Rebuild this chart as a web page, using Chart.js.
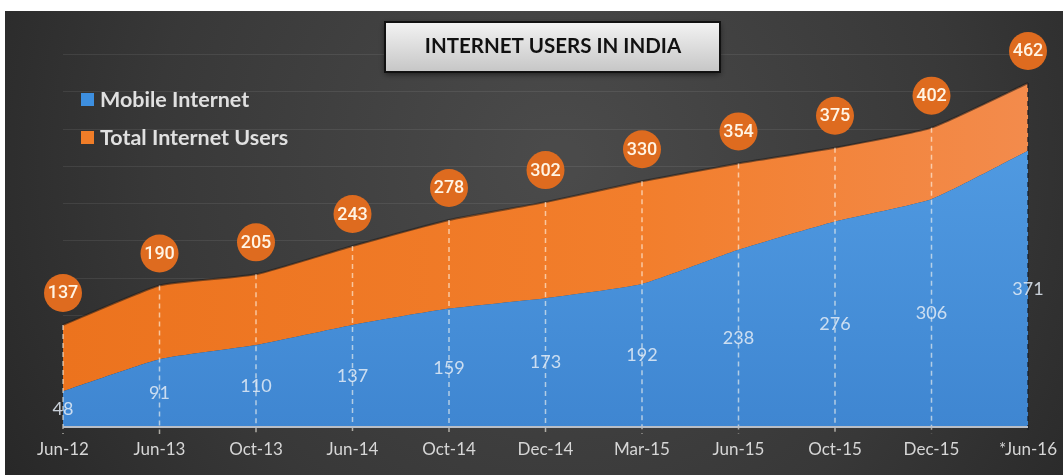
<!DOCTYPE html>
<html>
<head>
<meta charset="utf-8">
<script src="https://cdn.jsdelivr.net/npm/chart.js@4"></script>
<style>
  html, body { margin: 0; padding: 0; background: #fff; }
  #wrap { position: relative; width: 1063px; height: 475px; }
</style>
</head>
<body>
<div id="wrap"><canvas id="usersChart"></canvas></div>
<script>
// Internet users in India (millions)
const periods = ['Jun-12', 'Jun-13', 'Oct-13', 'Jun-14', 'Oct-14', 'Dec-14', 'Mar-15', 'Jun-15', 'Oct-15', 'Dec-15', '*Jun-16'];
const mobileUsers = [48, 91, 110, 137, 159, 173, 192, 238, 276, 306, 371];
const totalUsers = [137, 190, 205, 243, 278, 302, 330, 354, 375, 402, 462];
const legendItems = ['Mobile Internet', 'Total Internet Users'];
const chartTitle = 'INTERNET USERS IN INDIA';

const BLUE = '#3d8fe0';
const ORANGE = '#f07d28';

function blueFill(ctx) {
  const a = ctx.chart.chartArea;
  if (!a) return '#4890da';
  const g = ctx.chart.ctx.createLinearGradient(0, a.top + 120, 0, a.bottom);
  g.addColorStop(0, '#519be2');
  g.addColorStop(1, '#3f86d1');
  return g;
}

function orangeFill(ctx) {
  const a = ctx.chart.chartArea;
  if (!a) return '#f07a22';
  const g = ctx.chart.ctx.createLinearGradient(a.left, 0, a.right, 0);
  g.addColorStop(0, '#ec731e');
  g.addColorStop(0.6, '#f27e2c');
  g.addColorStop(1, '#f38b4c');
  return g;
}

// dark backdrop with the white strip on top and left
const backdrop = {
  id: 'backdrop',
  beforeDraw(chart) {
    const c = chart.ctx;
    c.save();
    c.fillStyle = '#fff';
    c.fillRect(0, 0, chart.width, chart.height);
    const g = c.createRadialGradient(560, 160, 20, 560, 160, 720);
    g.addColorStop(0, '#4a4a4a');
    g.addColorStop(0.55, '#383838');
    g.addColorStop(1, '#222');
    c.fillStyle = g;
    c.fillRect(5, 11, chart.width - 5, chart.height - 11);
    c.restore();
  }
};

// dashed drops, baseline, value labels, legend and title box
const decorations = {
  id: 'decorations',
  afterDatasetsDraw(chart) {
    const c = chart.ctx;
    const x = chart.scales.x;
    const y = chart.scales.y;
    const base = y.getPixelForValue(0);
    const last = periods.length - 1;
    c.save();

    periods.forEach((p, i) => {
      const px = x.getPixelForValue(i);
      c.beginPath();
      c.setLineDash([5, 4]);
      c.lineWidth = 1.5;
      c.strokeStyle = i === last ? 'rgba(25,30,40,0.85)' : 'rgba(255,250,240,0.6)';
      c.moveTo(px, y.getPixelForValue(totalUsers[i]));
      c.lineTo(px, base + 7);
      c.stroke();
    });
    c.setLineDash([]);

    c.beginPath();
    c.strokeStyle = '#b9bec6';
    c.lineWidth = 2;
    c.moveTo(x.left, base);
    c.lineTo(x.right, base);
    c.stroke();

    // mobile values sit halfway up the blue area
    c.textAlign = 'center';
    c.textBaseline = 'middle';
    c.font = '18px Lato';
    c.fillStyle = 'rgba(228,236,246,0.85)';
    mobileUsers.forEach((v, i) => {
      c.fillText(String(v), x.getPixelForValue(i), y.getPixelForValue(v / 2));
    });

    // total values in orange badges
    totalUsers.forEach((v, i) => {
      const px = x.getPixelForValue(i);
      const py = y.getPixelForValue(v) - 32;
      c.beginPath();
      c.arc(px, py, 19, 0, Math.PI * 2);
      c.fillStyle = '#de6b1f';
      c.fill();
      c.fillStyle = '#fff4e4';
      c.font = '500 18px Roboto';
      c.fillText(String(v), px, py + 1);
    });

    // legend
    c.textAlign = 'left';
    c.textBaseline = 'alphabetic';
    c.font = 'bold 21.5px Lato';
    [BLUE, ORANGE].forEach((col, i) => {
      const ly = 93 + i * 38;
      c.fillStyle = col;
      c.fillRect(81, ly, 13, 13);
      c.fillStyle = '#e0e0e0';
      c.fillText(legendItems[i], 100, ly + 14);
    });

    // title box
    c.shadowColor = 'rgba(0,0,0,0.6)';
    c.shadowBlur = 6;
    c.shadowOffsetY = 2;
    const tg = c.createLinearGradient(0, 22, 0, 72);
    tg.addColorStop(0, '#f3f3f3');
    tg.addColorStop(1, '#c6c6c6');
    c.fillStyle = tg;
    c.fillRect(385, 22, 335, 50);
    c.shadowColor = 'transparent';
    c.lineWidth = 2;
    c.strokeStyle = '#111';
    c.strokeRect(385, 22, 335, 50);
    c.fillStyle = '#111';
    c.textAlign = 'center';
    c.textBaseline = 'middle';
    c.font = 'bold 20.5px Lato';
    c.fillText(chartTitle, 553, 46);

    c.restore();
  }
};

new Chart(document.getElementById('usersChart'), {
  type: 'line',
  data: {
    labels: periods,
    datasets: [
      {
        label: legendItems[0],
        data: mobileUsers,
        fill: 'origin',
        backgroundColor: blueFill,
        borderColor: '#4d97e0',
        borderWidth: 0,
        pointRadius: 0,
        tension: 0.15
      },
      {
        label: legendItems[1],
        data: totalUsers,
        fill: '-1',
        backgroundColor: orangeFill,
        borderColor: 'rgba(25,25,25,0.55)',
        borderWidth: 2,
        pointRadius: 0,
        tension: 0.15
      }
    ]
  },
  options: {
    responsive: true,
    maintainAspectRatio: false,
    animation: false,
    layout: { padding: { left: 63, right: 35, top: 10, bottom: 15 } },
    plugins: {
      legend: { display: false },
      tooltip: { enabled: false }
    },
    scales: {
      x: {
        offset: false,
        grid: { display: false, drawTicks: false },
        border: { display: false },
        ticks: {
          color: '#d6d6d6',
          font: { family: 'Lato', size: 17 },
          padding: 12,
          maxRotation: 0,
          autoSkip: false
        },
        afterFit(s) {
          s.height = 33;
          s.paddingLeft = 0;
          s.paddingRight = 0;
        }
      },
      y: {
        min: 0,
        max: 560,
        ticks: { display: false, stepSize: 50 },
        border: { display: false },
        grid: {
          drawTicks: false,
          color: (ctx) => (ctx.tick && ctx.tick.value > 0 && ctx.tick.value <= 500 && ctx.tick.value % 50 === 0)
            ? 'rgba(255,255,255,0.08)' : 'rgba(0,0,0,0)',
          lineWidth: 1
        },
        afterFit(s) { s.width = 0; }
      }
    }
  },
  plugins: [backdrop, decorations]
});
</script>
</body>
</html>
